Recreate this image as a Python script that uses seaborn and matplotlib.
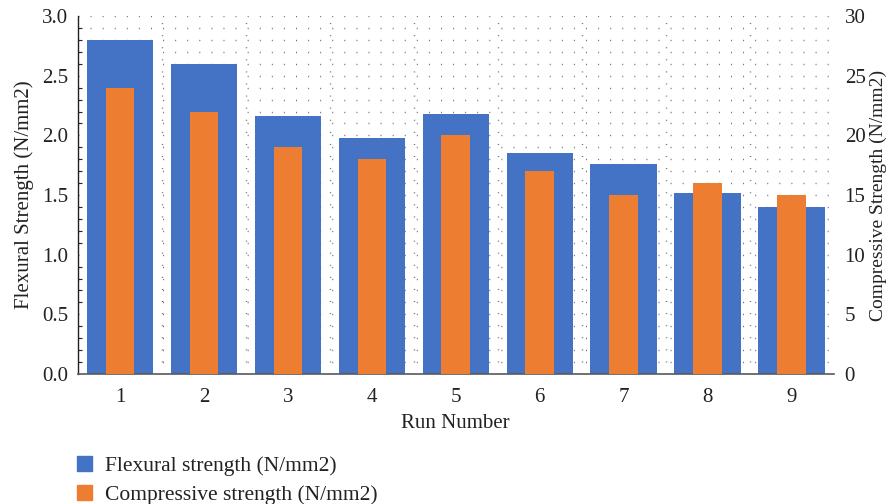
import numpy as np
import pandas as pd
import matplotlib
matplotlib.use("Agg")
import matplotlib.pyplot as plt
from matplotlib.patches import Patch
from matplotlib.ticker import MultipleLocator
import seaborn as sns

# 数据
runs = ["1", "2", "3", "4", "5", "6", "7", "8", "9"]
flexural = [2.80, 2.60, 2.16, 1.98, 2.18, 1.85, 1.76, 1.52, 1.40]
compressive = [24, 22, 19, 18, 20, 17, 15, 16, 15]

BLUE = "#4472C4"
ORANGE = "#ED7D31"
TXT = "#222222"

sns.set_theme(style="white")
plt.rcParams['font.family'] = ['Liberation Serif', 'DejaVu Serif']
plt.rcParams['lines.scale_dashes'] = False

df = pd.DataFrame({"run": runs, "flex": flexural, "comp": compressive})

fig = plt.figure(figsize=(8.91, 5.04), dpi=100)
ax = fig.add_axes([0.0875, 0.258, 0.848, 0.71])

sns.barplot(data=df, x="run", y="flex", order=runs, color=BLUE, width=0.79,
            saturation=1, linewidth=0, edgecolor="none", ax=ax, zorder=2)

ax2 = ax.twinx()
sns.barplot(data=df, x="run", y="comp", order=runs, color=ORANGE, width=0.34,
            saturation=1, linewidth=0, edgecolor="none", ax=ax2, zorder=3)

ax.set_xlim(-0.5, 8.5)
ax2.set_xlim(-0.5, 8.5)
ax.set_ylim(0, 3.0)
ax2.set_ylim(0, 30)
ax.set_yticks(np.arange(0, 3.01, 0.5))
ax.set_yticklabels([f"{v:.1f}" for v in np.arange(0, 3.01, 0.5)])
ax.yaxis.set_minor_locator(MultipleLocator(0.1))
ax2.set_yticks(np.arange(0, 31, 5))

# 点状网格
dot = (0, (0.7, 8.0))
for y in np.arange(0.1, 3.01, 0.1):
    ax.axhline(y, color="#6a6a6a", lw=1.0, ls=dot, zorder=0)
for x in np.arange(0.5, 8.0, 1.0):
    ax.axvline(x, color="#6a6a6a", lw=1.0, ls=dot, zorder=0)
ax.set_axisbelow(True)

for a in (ax, ax2):
    for s in a.spines.values():
        s.set_visible(False)
ax.spines['left'].set_visible(True)
ax.spines['left'].set_color(TXT)
ax.spines['left'].set_linewidth(1.0)
ax.spines['bottom'].set_visible(True)
ax.spines['bottom'].set_color("#595959")
ax.spines['bottom'].set_linewidth(1.2)

ax.tick_params(axis='x', length=0, labelsize=15, colors=TXT, pad=10)
ax.tick_params(axis='y', which='major', length=0, labelsize=15, colors=TXT, pad=7)
ax.tick_params(axis='y', which='minor', direction='in', length=3, width=0.8, colors=TXT)
ax2.tick_params(axis='y', length=0, labelsize=15, colors=TXT, pad=8)

ax.set_xlabel("Run Number", fontsize=15, color=TXT, labelpad=5)
ax.set_ylabel("Flexural Strength (N/mm2)", fontsize=15, color=TXT, labelpad=6)
ax2.set_ylabel("Compressive Strength (N/mm2)", fontsize=14, color=TXT, labelpad=3)

handles = [Patch(color=BLUE, label="Flexural strength (N/mm2)"),
           Patch(color=ORANGE, label="Compressive strength (N/mm2)")]
fig.legend(handles=handles, loc="lower left", bbox_to_anchor=(0.065, -0.04),
           frameon=False, fontsize=15.5, handlelength=0.7, handleheight=0.7,
           handletextpad=0.6, labelspacing=0.4, labelcolor=TXT)

fig.savefig("out.png", dpi=100)
